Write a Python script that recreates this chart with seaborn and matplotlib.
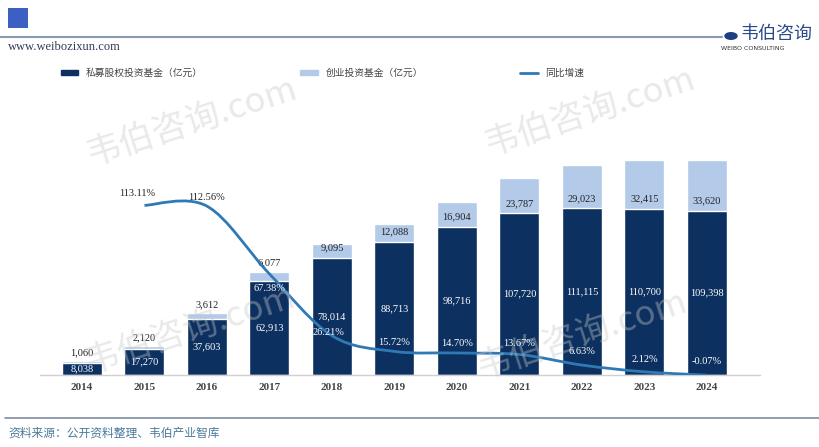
import matplotlib
matplotlib.use("Agg")
import matplotlib.pyplot as plt
import numpy as np
import pandas as pd
import seaborn as sns
from matplotlib.path import Path
from matplotlib.patches import PathPatch, Patch, Rectangle
from matplotlib.lines import Line2D

sns.set_theme(style="white")
plt.rcParams['font.family'] = ['Liberation Serif', 'Noto Sans CJK SC', 'DejaVu Sans']

# data
years = ["2014", "2015", "2016", "2017", "2018", "2019", "2020", "2021", "2022", "2023", "2024"]
private_equity = [8038, 17270, 37603, 62913, 78014, 88713, 98716, 107720, 111115, 110700, 109398]
venture = [1060, 2120, 3612, 6077, 9095, 12088, 16904, 23787, 29023, 32415, 33620]
growth = [np.nan, 113.11, 112.56, 67.38, 26.21, 15.72, 14.70, 13.67, 6.63, 2.12, -0.07]

names = ["私募股权投资基金（亿元）", "创业投资基金（亿元）", "同比增速"]
dark = "#0c305f"
light = "#b3cae8"
line_c = "#2f7ab5"

df = pd.DataFrame({"year": years, "pe": private_equity, "vc": venture, "g": growth})
df["total"] = df["pe"] + df["vc"]

fig = plt.figure(figsize=(8.19, 4.47), dpi=100)
W, H = 819, 447
ax = fig.add_axes([40 / W, (H - 375) / H, 720 / W, 225 / H])

# watermarks (behind everything)
for (wx, wy) in [(192, 122), (590, 112), (190, 330), (582, 335)]:
    fig.text(wx / W, 1 - wy / H, "韦伯咨询.com", fontsize=25, color="#c8c8c8", alpha=0.4,
             rotation=18, ha="center", va="center", family=["Noto Sans CJK SC"], zorder=0)

# stacked bars: total (light) behind, private (dark) in front
sns.barplot(data=df, x="year", y="total", color=light, width=0.64, saturation=1, ax=ax)
sns.barplot(data=df, x="year", y="pe", color=dark, width=0.64, saturation=1, ax=ax)
ax.set_facecolor("none")
ax.set_xlim(-0.672, 10.85)
ax.set_ylim(0, 150000)
ax.set_xlabel("")
ax.set_ylabel("")
ax.set_yticks([])
for s in ["top", "right", "left"]:
    ax.spines[s].set_visible(False)
ax.spines["bottom"].set_color("#d0d0d0")
ax.spines["bottom"].set_linewidth(1)
ax.tick_params(axis="x", length=0, pad=6)
for t in ax.get_xticklabels():
    t.set_fontsize(8)
    t.set_fontweight("bold")
    t.set_color("#444444")

for i, r in df.iterrows():
    ax.text(i, r["pe"] / 2, f"{r['pe']:,}", ha="center", va="center",
            color="white", fontsize=7.5)
    if r["vc"] < 8000:
        ax.text(i, r["total"] + 2500, f"{r['vc']:,}", ha="center", va="bottom",
                color="#222222", fontsize=7.5)
    else:
        ax.text(i, r["pe"] + 6600, f"{r['vc']:,}", ha="center", va="center",
                color="#222222", fontsize=7.5)

# growth line on twin axis, smoothed with bezier segments
ax2 = ax.twinx()
ax2.set_ylim(0, 150)
ax2.set_axis_off()
sns.lineplot(x=np.arange(len(years)), y=df["g"], ax=ax2, alpha=0)
xs = np.arange(1, len(years))
ys = np.array(growth[1:])
verts = [(xs[0], ys[0])]
codes = [Path.MOVETO]
for k in range(len(xs) - 1):
    p0 = (xs[max(k - 1, 0)], ys[max(k - 1, 0)])
    p1 = (xs[k], ys[k])
    p2 = (xs[k + 1], ys[k + 1])
    p3 = (xs[min(k + 2, len(xs) - 1)], ys[min(k + 2, len(xs) - 1)])
    c1 = (p1[0] + (p2[0] - p0[0]) / 6, p1[1] + (p2[1] - p0[1]) / 6)
    c2 = (p2[0] - (p3[0] - p1[0]) / 6, p2[1] - (p3[1] - p1[1]) / 6)
    verts += [c1, c2, p2]
    codes += [Path.CURVE4] * 3
ax2.add_patch(PathPatch(Path(verts, codes), facecolor="none", edgecolor=line_c, lw=2))

lab_off = {1: 8, 2: 6, 3: -10, 4: 2, 5: 6, 6: 6, 7: 7, 8: 9, 9: 8, 10: 9}
for i in range(1, len(years)):
    col = "#222222" if i <= 2 else "white"
    xo = {1: -0.12, 4: -0.05}.get(i, 0)
    ax2.text(i + xo, growth[i] + lab_off[i], f"{growth[i]:.2f}%", ha="center", va="center",
             color=col, fontsize=7.5)

# legend
handles = [Patch(facecolor=dark, edgecolor=dark), Patch(facecolor=light, edgecolor=light),
           Line2D([0], [0], color=line_c, lw=2)]
fig.legend(handles, names, loc="center left", bbox_to_anchor=(52 / W, 1 - 73 / H), ncol=3,
           frameon=False, columnspacing=10, handlelength=1.8, handleheight=0.5,
           labelcolor="#444444", prop={"family": ["Noto Sans CJK SC"], "size": 7})

# header decorations
fig.add_artist(Rectangle((8 / W, 1 - 28 / H), 20 / W, 20 / H, transform=fig.transFigure,
                         facecolor="#3d5fc4", edgecolor="none"))
fig.add_artist(Line2D([0, 722 / W], [1 - 37 / H] * 2, transform=fig.transFigure,
                      color="#8a9bb0", lw=1.5))
fig.text(8 / W, 1 - 47 / H, "www.weibozixun.com", fontsize=9, color="#333a55", va="center")
fig.add_artist(plt.Circle((731 / W, 1 - 36 / H), 6 / W, transform=fig.transFigure,
                          color="#1d3f80"))
fig.text(741 / W, 1 - 34 / H, "韦伯咨询", fontsize=13, color="#2a4a8a", va="center",
         family=["Noto Sans CJK SC"])
fig.text(721 / W, 1 - 48 / H, "WEIBO CONSULTING", fontsize=4.5, color="#333333", va="center",
         family=["DejaVu Sans"])

# footer
fig.add_artist(Line2D([5 / W, 1], [1 - 418 / H] * 2, transform=fig.transFigure,
                      color="#7f8ea0", lw=1.2))
fig.text(8 / W, 1 - 433 / H, "资料来源：公开资料整理、韦伯产业智库", fontsize=8.5,
         color="#4a7a9a", va="center", family=["Noto Sans CJK SC"])

fig.savefig("out.png", dpi=100)
